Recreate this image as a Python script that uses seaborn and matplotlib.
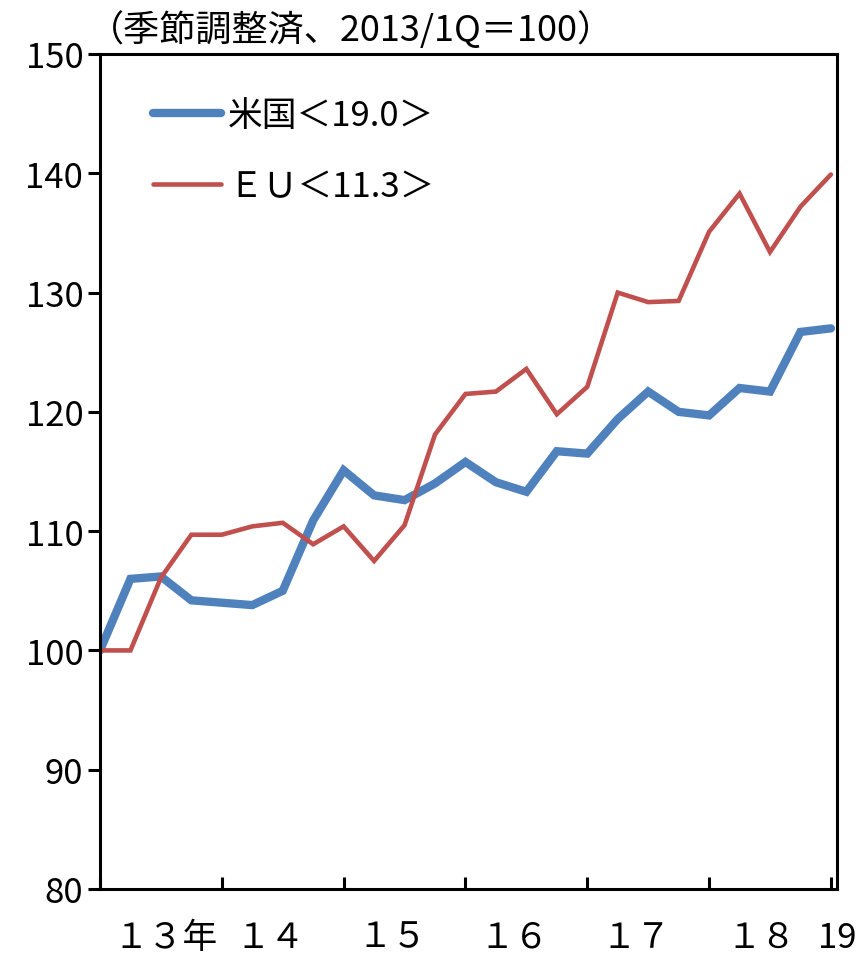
import matplotlib
matplotlib.use("Agg")
import matplotlib.pyplot as plt
import seaborn as sns
import numpy as np
import pandas as pd

# Quarterly index, 2013Q1 .. 2019Q1 (2013/1Q = 100)
quarters = list(range(25))
us_values = [100.0, 106.0, 106.2, 104.2, 104.0, 103.8, 105.0, 110.9, 115.1,
             113.0, 112.6, 114.0, 115.8, 114.1, 113.3, 116.7, 116.5, 119.4,
             121.7, 120.0, 119.7, 122.0, 121.7, 126.7, 127.0]
eu_values = [100.0, 100.0, 106.1, 109.7, 109.7, 110.4, 110.7, 108.9, 110.4,
             107.5, 110.5, 118.1, 121.5, 121.7, 123.6, 119.8, 122.1, 130.0,
             129.2, 129.3, 135.1, 138.3, 133.4, 137.2, 139.9]
us_label = "米国＜19.0＞"
eu_label = "ＥＵ＜11.3＞"
year_labels = ["１３年", "１４", "１５", "１６", "１７", "１８", "19"]
title_text = "（季節調整済、2013/1Q＝100）"

sns.set_style("white")
plt.rcParams["font.family"] = ["Noto Sans CJK JP", "DejaVu Sans"]
plt.rcParams["text.color"] = "black"
plt.rcParams["xtick.color"] = "black"
plt.rcParams["ytick.color"] = "black"

fig = plt.figure(figsize=(8.6, 9.54), dpi=100)
ax = fig.add_axes([100 / 860, 1 - 890 / 954, 737 / 860, 835 / 954])

df = pd.DataFrame({"q": quarters, "us": us_values, "eu": eu_values})
sns.lineplot(data=df, x="q", y="us", ax=ax, color="#4F81BD", linewidth=6.0,
             label=us_label, solid_capstyle="round", solid_joinstyle="miter")
sns.lineplot(data=df, x="q", y="eu", ax=ax, color="#C0504D", linewidth=3.3,
             label=eu_label, solid_capstyle="round", solid_joinstyle="miter")

ax.set_xlim(0, 24)
ax.set_ylim(80, 150)
ax.set_xlabel("")
ax.set_ylabel("")

for s in ax.spines.values():
    s.set_linewidth(2.2)
    s.set_color("black")
    s.set_visible(True)

ax.set_yticks(np.arange(80, 151, 10))
ax.tick_params(axis="y", which="major", direction="out", length=9, width=2.2,
               labelsize=25, pad=3, left=True)

# Year boundaries as inward major ticks; year names as unticked minor labels
ax.set_xticks(np.arange(0, 25, 4))
ax.set_xticklabels([])
ax.tick_params(axis="x", which="major", direction="in", length=9, width=2.2,
               bottom=True)
label_pos = [2.15, 5.6, 9.6, 13.6, 17.6, 21.7, 24.2]
ax.set_xticks(label_pos, minor=True)
ax.set_xticklabels(year_labels, minor=True)
ax.tick_params(axis="x", which="minor", length=0, labelsize=25, pad=22)

fig.text(88 / 860, 1 - 30 / 954, title_text, fontsize=26, va="center",
         ha="left")

leg = ax.legend(loc="upper left", bbox_to_anchor=(0.03, 0.985), frameon=False,
                fontsize=25, handlelength=1.95, handletextpad=0.2,
                labelspacing=1.05)

fig.savefig("out.png", dpi=100, facecolor="white")
